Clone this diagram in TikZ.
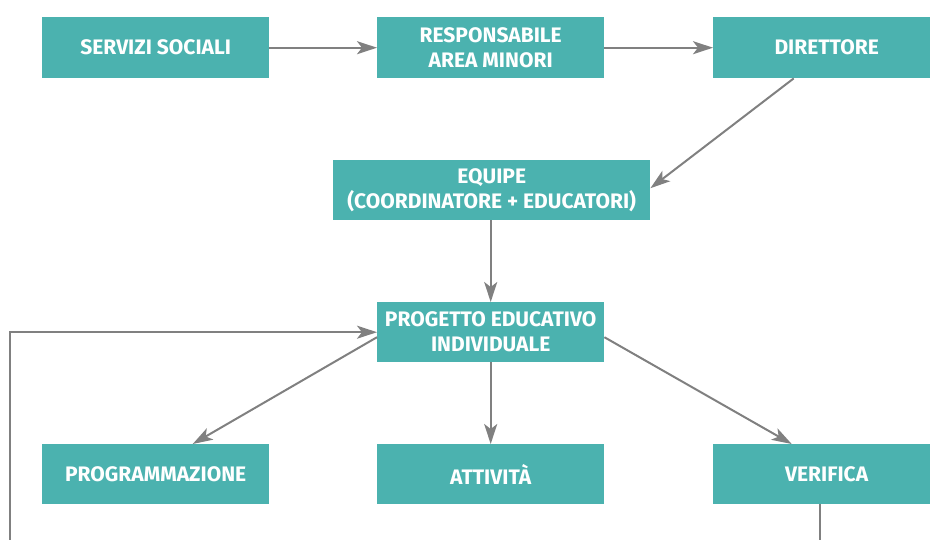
\documentclass[tikz,border=0pt]{standalone}
\usepackage{fontspec}
\setmainfont{Fira Sans}
\usetikzlibrary{arrows.meta}
\definecolor{boxteal}{HTML}{4BB2AF}
\definecolor{arrgray}{HTML}{808080}
\begin{document}
\begin{tikzpicture}[x=1pt,y=-1pt,
  box/.style={fill=boxteal, text=white, font=\bfseries\fontsize{21}{25}\selectfont,
    align=center, inner sep=0pt, anchor=north west, minimum width=227pt, minimum height=61pt},
  wline/.style={draw=arrgray, line width=2pt},
  conn/.style={wline, -{Stealth[length=20pt,width=13pt,inset=5pt]}}]
\useasboundingbox (0,0) rectangle (930,539);
\node[box] (ss) at (42,17) {SERVIZI SOCIALI};
\node[box] (ra) at (377,17) {RESPONSABILE\\AREA MINORI};
\node[box] (di) at (713,17) {DIRETTORE};
\node[box, minimum width=317pt, minimum height=60pt] (eq) at (333,160) {EQUIPE\\(COORDINATORE + EDUCATORI)};
\node[box, minimum height=60pt] (pe) at (377,302) {PROGETTO EDUCATIVO\\INDIVIDUALE};
\node[box, minimum height=60pt] (pr) at (42,444) {PROGRAMMAZIONE};
\node[box, minimum height=60pt] (at) at (377,444) {ATTIVITÀ};
\node[box, minimum height=60pt] (ve) at (713,444) {VERIFICA};
\coordinate (fbl) at (10,545);
\coordinate (fbr) at (820,545);
\draw[conn] (ss) -- (ra);
\draw[conn] (ra) -- (di);
\draw[conn] ([xshift=-33pt]di.south) -- ([yshift=2pt]eq.east);
\draw[conn] (eq.south -| pe.north) -- (pe.north);
\draw[conn] ([yshift=-5pt]pe.west) -- ([xshift=37pt]pr.north);
\draw[conn] (pe.south) -- (at.north);
\draw[conn] ([yshift=-5pt]pe.east) -- ([xshift=-35pt]ve.north);
\draw[conn] (fbl) |- (pe.west);
\draw[wline] (ve.south -| fbr) -- (fbr);
\end{tikzpicture}
\end{document}
